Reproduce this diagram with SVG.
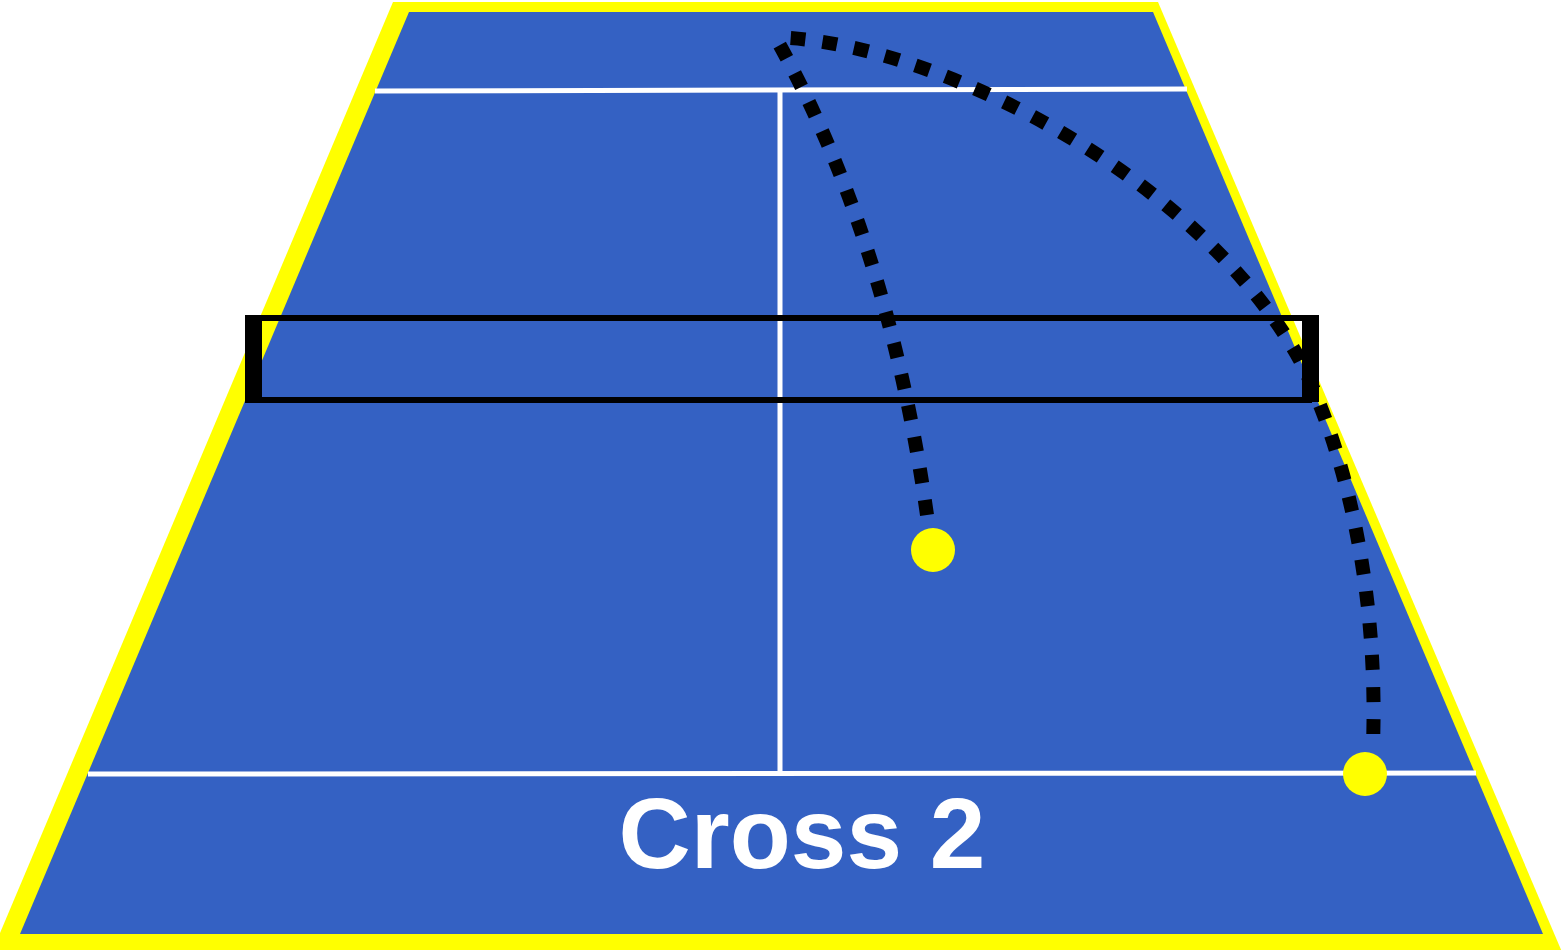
<svg xmlns="http://www.w3.org/2000/svg" width="1565" height="950" viewBox="0 0 1565 950">
<style>
.line{stroke:#ffffff;stroke-width:5;fill:none}
.net{fill:none;stroke:#000;stroke-width:6}
.post{fill:#000}
.ball{fill:#ffff00}
.path{fill:none;stroke:#000;stroke-width:14;stroke-dasharray:15 17}
.label{font-family:"Liberation Sans",Arial,sans-serif;font-weight:bold;font-size:100px;fill:#ffffff;text-anchor:middle}
</style>
<rect width="1565" height="950" fill="#ffffff"/>
<g id="court">
<polygon points="393,2 1158,2 1562,952 -8,952" fill="#ffff00"/>
<polygon points="409,12 1153,12 1543,934 20,934" fill="#3461c3"/>
<line class="line" x1="375" y1="91" x2="1187" y2="89"/>
<line class="line" x1="88" y1="774" x2="1476" y2="773"/>
<line class="line" x1="780" y1="91" x2="780" y2="774"/>
</g>
<g id="net">
<rect class="net" x="253" y="318" width="1056" height="82"/>
<rect class="post" x="245" y="315" width="17" height="88"/>
<rect class="post" x="1302" y="315" width="17" height="87"/>
</g>
<g id="connectors">
<path class="path" d="M 927,515 Q 888,240 778,42 L 790,38 C 950,50 1200,180 1300,360 C 1350,460 1378,600 1373,745"/>
</g>
<g id="ball1"><circle class="ball" cx="933" cy="550" r="22"/></g>
<g id="ball2"><circle class="ball" cx="1365" cy="774" r="22"/></g>
<g id="title"><text class="label" x="802" y="868">Cross 2</text></g>
</svg>
